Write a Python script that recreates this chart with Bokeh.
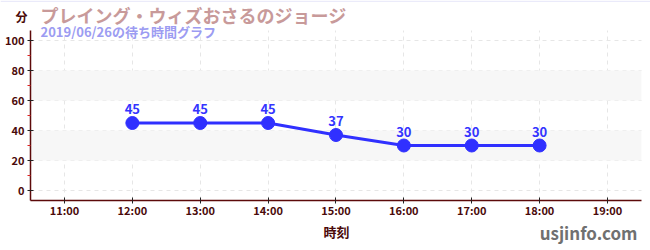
from bokeh.plotting import figure
from bokeh.models import (ColumnDataSource, Label, BoxAnnotation, FixedTicker, Range1d, Span)
from bokeh.core.properties import value
from bokeh.embed import file_html
from bokeh.resources import INLINE

title_text = "プレイング・ウィズおさるのジョージ"
subtitle_text = "2019/06/26の待ち時間グラフ"
unit_text = "分"
xlabel_text = "時刻"
site_text = "usjinfo.com"
times = ["12:00", "13:00", "14:00", "15:00", "16:00", "17:00", "18:00"]
waits = [45, 45, 45, 37, 30, 30, 30]
tick_labels = ["11:00", "12:00", "13:00", "14:00", "15:00", "16:00", "17:00", "18:00", "19:00"]
y_ticks = [0, 20, 40, 60, 80, 100]
y_minor = [10, 30, 50, 70, 90]
bands = [(20, 40), (60, 80)]

def to_h(s):
    h, m = s.split(":")
    return int(h) + int(m) / 60

xs = [to_h(t) for t in times]
tick_pos = [to_h(t) for t in tick_labels]

# plot-area extents (data units)
X0, X1 = 10.5, 19.5
Y0, Y1 = -6.67, 106.67

FONT = "Noto Sans CJK JP"
AXIS = "#5c0a0a"
TXT = "#4a0a0a"

p = figure(width=650, height=250, output_backend="svg", toolbar_location=None,
           x_range=Range1d(10.057, 19.634), y_range=Range1d(-40.0, 126.67),
           min_border=0, min_border_left=0, min_border_right=0,
           min_border_top=0, min_border_bottom=0)
p.outline_line_color = None
p.background_fill_color = "white"
p.border_fill_color = "white"

for lo, hi in bands:
    p.add_layout(BoxAnnotation(bottom=lo, top=hi, left=X0, right=X1, fill_color="#f7f7f7",
                               fill_alpha=1.0, line_color=None, level="underlay"))

p.xaxis.ticker = FixedTicker(ticks=tick_pos)
p.xaxis.major_label_overrides = {pos: lab for pos, lab in zip(tick_pos, tick_labels)}
p.yaxis.ticker = FixedTicker(ticks=y_ticks, minor_ticks=y_minor)
p.xaxis.fixed_location = Y0
p.yaxis.fixed_location = X0
p.xaxis.bounds = (X0, X1)
p.yaxis.bounds = (Y0, Y1)

for ax in (p.xaxis[0], p.yaxis[0]):
    ax.axis_line_color = AXIS
    ax.axis_line_width = 1.5
    ax.major_tick_line_color = "#222222"
    ax.major_tick_in = 3
    ax.major_tick_out = 3
    ax.major_label_text_font = FONT
    ax.major_label_text_font_style = "bold"
    ax.major_label_text_font_size = "11px"
    ax.major_label_text_color = TXT
ax = p.yaxis[0]
ax.minor_tick_line_color = "#dd2222"
ax.minor_tick_in = 0
ax.minor_tick_out = 3
p.xaxis.minor_tick_line_color = None
p.xaxis.major_label_standoff = -2
p.yaxis.major_label_standoff = 3

for g in (p.xgrid[0], p.ygrid[0]):
    g.grid_line_color = "#e6e6e6"
    g.grid_line_dash = "4 4"
    g.grid_line_width = 1
p.xgrid[0].cross_bounds = (Y0, Y1)
p.ygrid[0].cross_bounds = (X0, X1)

p.add_layout(Span(location=126.2, dimension="width", line_color="#e2e2f8", line_width=1))

src = ColumnDataSource(dict(x=xs, y=waits, lab=[str(v) for v in waits]))
p.line("x", "y", source=src, line_color="#3030ff", line_width=3)
p.scatter("x", "y", source=src, size=13, fill_color="#3030ff", line_color="#3030ff")
p.text("x", "y", text="lab", source=src, text_align="center", text_baseline="bottom",
       y_offset=-9, text_font=value(FONT), text_font_style="bold", text_font_size="13px",
       text_color="#3434ff")

def lab(x, y, t, size, color, align="left"):
    p.add_layout(Label(x=x, y=y, x_units="screen", y_units="screen", text=t,
                       text_font=FONT, text_font_style="bold", text_font_size=size,
                       text_color=color, text_baseline="middle", text_align=align))

lab(40, 236, title_text, "18px", "#c89a9a")
lab(40, 219, subtitle_text, "13px", "#9c9cf2")
lab(15, 234, unit_text, "12px", TXT)
lab(336, 19, xlabel_text, "13px", TXT, "center")
lab(637, 18, site_text, "17px", "#707070", "right")

open("out.html", "w").write(file_html(p, INLINE))
